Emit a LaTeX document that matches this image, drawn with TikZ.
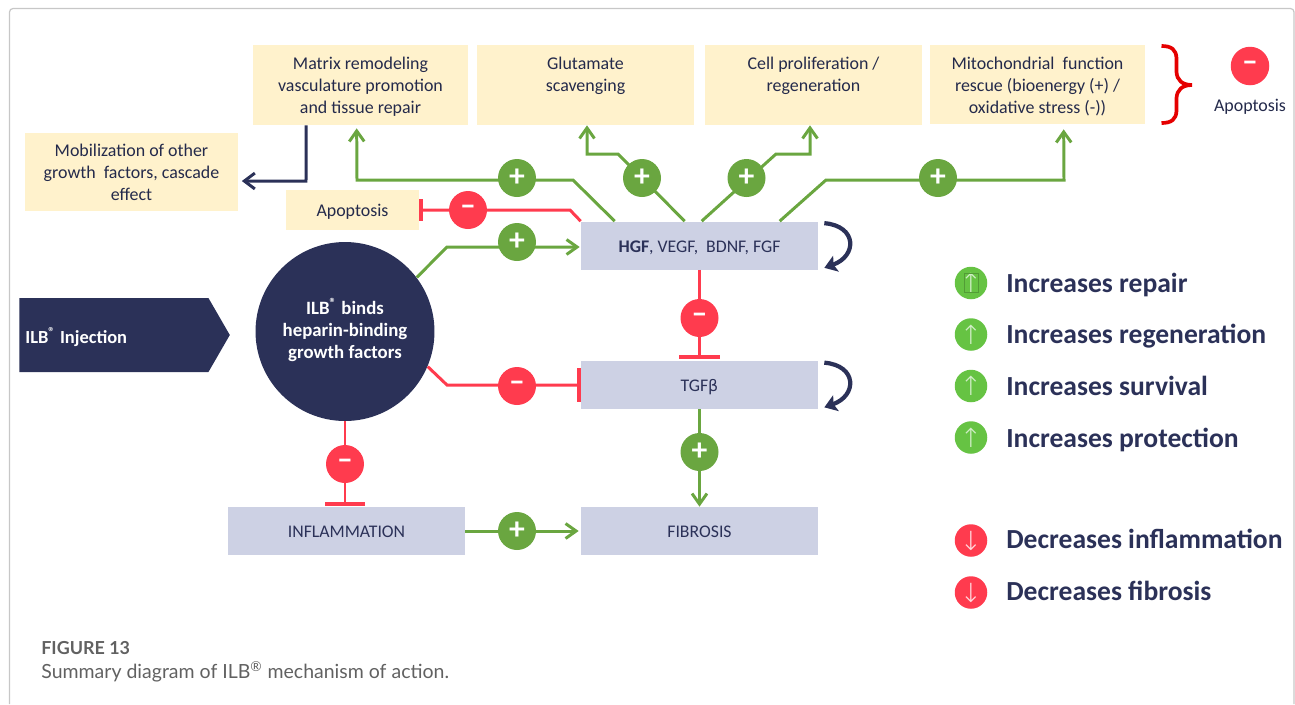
\documentclass[tikz,border=0pt]{standalone}
\usepackage{fontspec}
\setmainfont{Carlito}
\newfontfamily\capfont{Lato}
\newfontfamily\glyphfont{DejaVu Sans}
\newfontfamily\thinfont{DejaVu Sans ExtraLight}
\usetikzlibrary{arrows.meta,calc,shapes.symbols}
\definecolor{creambox}{HTML}{FFF2CC}
\definecolor{greybox}{HTML}{CDD1E4}
\definecolor{navy}{HTML}{2B3158}
\definecolor{plusgreen}{HTML}{6AA640}
\definecolor{minusred}{HTML}{FF3B4E}
\definecolor{upgreen}{HTML}{66C343}
\newcommand{\ilb}{ILB\textsuperscript{®}}
\newcommand{\minusmark}{\raisebox{-1.7pt}{–}}
\newcommand{\firstline}{\rule{0pt}{9.2pt}}
\tikzset{
  creamnode/.style={fill=creambox,text=navy!85!black,align=center,font=\fontsize{10.2}{12.5}\selectfont,inner sep=0pt},
  greynode/.style={fill=greybox,text=navy,align=center,font=\fontsize{10.1}{12.5}\selectfont,inner sep=0pt,minimum width=4.74cm,minimum height=0.96cm,text height=8.5pt,text depth=1pt},
  plusbadge/.style={circle,fill=plusgreen,text=white,minimum size=0.76cm,inner sep=0pt,font=\fontsize{18}{18}\selectfont\bfseries},
  minusbadge/.style={circle,fill=minusred,text=white,minimum size=0.76cm,inner sep=0pt,font=\fontsize{18}{18}\selectfont\bfseries},
  plusline/.style={draw=plusgreen,line width=1.7pt},
  plusarrow/.style={plusline,-{Straight Barb[length=6pt,width=8.5pt,line width=1.7pt]}},
  minusline/.style={draw=minusred,line width=1.7pt},
  minusbar/.style={minusline,-{Bar[width=#1,line width=2pt]}},
  navyarrow/.style={draw=navy,line width=1.7pt,-{Straight Barb[length=6pt,width=9pt,line width=1.7pt]}},
  selfloop/.style={draw=navy,line width=2.4pt,-{Stealth[length=7pt,width=9.5pt,inset=1.5pt]}},
  upbullet/.style={circle,fill=upgreen,text=white!70!upgreen,minimum size=0.65cm,inner sep=0pt,font=\thinfont\fontsize{15}{15}\selectfont},
  downbullet/.style={circle,fill=minusred,text=white!80!minusred,minimum size=0.65cm,inner sep=0pt,font=\thinfont\fontsize{15}{15}\selectfont},
  legendtext/.style={anchor=base west,text=navy,inner sep=0pt,font=\fontsize{15.7}{15.7}\selectfont\bfseries}
}
\begin{document}
\begin{tikzpicture}[x=0.02cm,y=-0.02cm]
  \useasboundingbox (0,0) rectangle (1295,704);
  \draw[black!22,line width=0.7pt,rounded corners=2pt] (9.5,704)--(9.5,8.5)--(1294,8.5)--(1294,704);
  % top row
  \node[creamnode,minimum width=4.3cm,minimum height=1.6cm] (matrix) at (360.5,85) {\firstline Matrix remodeling\\vasculature promotion\\and tissue repair};
  \node[creamnode,minimum width=4.34cm,minimum height=1.6cm] (glutamate) at (585.5,85) {Glutamate\\scavenging\\~};
  \node[creamnode,minimum width=4.33cm,minimum height=1.6cm] (prolif) at (813.5,85) {Cell proliferation /\\regeneration\\~};
  \node[creamnode,minimum width=4.3cm,minimum height=1.58cm] (mito) at (1037.5,84.5) {\firstline Mitochondrial~ function\\rescue (bioenergy (+) /\\oxidative stress (-))};
  \node[creamnode,minimum width=4.28cm,minimum height=1.56cm] (mobil) at (131.5,172) {Mobilization of other\\growth~ factors, cascade\\effect};
  \node[creamnode,minimum width=2.66cm,minimum height=0.8cm,text height=8.5pt,text depth=1pt] (apopbox) at (352.5,210) {Apoptosis};
  % middle
  \node[fill=navy,signal,signal to=east,signal pointer angle=120,inner sep=0pt,minimum width=4.21cm,minimum height=1.48cm,anchor=west] (inject) at (19,335) {};
  \node[anchor=west,text=white,inner sep=0pt,font=\fontsize{10.5}{12.5}\selectfont\bfseries] (injecttext) at (25,337) {\ilb{} Injection};
  \node[circle,fill=navy,text=white,align=center,inner sep=0pt,minimum size=3.58cm,font=\fontsize{10.7}{12.5}\selectfont\bfseries] (ilbnode) at (345,331.5) {\ilb{} binds\\heparin-binding\\growth factors\rule[-3.4pt]{0pt}{0pt}};
  \node[greynode] (hgf) at (699.5,245.5) {\textbf{HGF}, VEGF,~ BDNF, FGF};
  \node[greynode] (tgf) at (699.5,385) {TGF{\glyphfont\fontsize{9}{12}\selectfont β}};
  \node[greynode] (inflam) at (346.5,531) {INFLAMMATION};
  \node[greynode] (fibro) at (699.5,531) {FIBROSIS};
  % connectors
  \coordinate (bendA) at (573,180);
  \coordinate (bendB) at (357,180);
  \coordinate (bendC) at (618,154);
  \coordinate (bendD) at (587,154);
  \coordinate (bendE) at (776,154);
  \coordinate (bendF) at (810,154);
  \coordinate (bendG) at (826,180);
  \coordinate (bendH) at (1064,180);
  \coordinate (bendI) at (570,210);
  \coordinate (bendJ) at (447,247);
  \coordinate (bendK) at (447,385);
  \draw[plusarrow] ($(hgf.north west)+(34,0)$)--(bendA)--(bendB)--($(matrix.south west)+(104,3)$);
  \draw[plusarrow] ($(hgf.north west)+(104,0)$)--(bendC)--(bendD)--(glutamate.south west-|bendD);
  \draw[plusarrow] ($(hgf.north west)+(121,0)$)--(bendE)--(bendF)--(prolif.south west-|bendF);
  \draw[plusarrow] ($(hgf.north west)+(199,0)$)--(bendG)--(bendH)--($(mito.south west)+(134,5)$);
  \draw[minusbar=12.5pt] (hgf.north west)--(bendI)--(apopbox.east);
  \draw[plusarrow] (ilbnode.37)--(bendJ)--($(hgf.west)+(-1,1.5)$);
  \draw[minusbar=19pt] (ilbnode.-23)--(bendK)--(tgf.west);
  \draw[minusbar=23pt] (hgf.south)--($(tgf.north)+(0,-2)$);
  \draw[plusarrow] (tgf.south)--(fibro.north);
  \draw[minusbar=23pt] (ilbnode.south)--($(inflam.north)+(-1.5,-1)$);
  \draw[plusarrow] (inflam.east)--($(fibro.west)+(-2,0)$);
  \draw[navyarrow] ($(matrix.south west)+(53.5,0)$)--(306,181)--($(mobil.east)+(3,9)$);
  \draw[selfloop] ($(hgf.north east)+(6,2)$) .. controls ($(hgf.east)+(39,-19.5)$) and ($(hgf.east)+(39,10.5)$) .. ($(hgf.south east)+(6,-2)$);
  \draw[selfloop] ($(tgf.north east)+(6,2)$) .. controls ($(tgf.east)+(39,-19.5)$) and ($(tgf.east)+(39,10.5)$) .. ($(tgf.south east)+(6,-2)$);
  % badges
  \node[plusbadge] (plusA) at (517,178) {+};
  \node[plusbadge] (plusB) at (642,178) {+};
  \node[plusbadge] (plusC) at (746.5,178) {+};
  \node[plusbadge] (plusD) at (938,178) {+};
  \node[plusbadge] (plusE) at (517,242) {+};
  \node[plusbadge] (plusF) at (699.5,452) {+};
  \node[plusbadge] (plusG) at (517,531) {+};
  \node[minusbadge] (minusA) at (468,210) {\minusmark};
  \node[minusbadge] (minusB) at (517,386) {\minusmark};
  \node[minusbadge] (minusC) at (699.5,318) {\minusmark};
  \node[minusbadge] (minusD) at (345,464) {\minusmark};
  % apoptosis brace
  \draw[red!90!black,line width=2.1pt] (1161.5,46) .. controls (1172,46) and (1176,50) .. (1176.5,58) -- (1176.5,72) .. controls (1177,80) and (1182,85) .. (1192,85) .. controls (1182,85) and (1177,90) .. (1176.5,98) -- (1176.5,111) .. controls (1176,119) and (1172,123) .. (1161.5,123);
  \node[minusbadge,minimum size=0.77cm] (minusE) at (1250,66) {\minusmark};
  \node[text=navy!85!black,inner sep=0pt,font=\fontsize{10.2}{12.5}\selectfont] (apoplabel) at (1250,106.5) {Apoptosis};
  % legend
  \node[upbullet] (upA) at (971,283) {↑};
  \draw[upgreen!80!black,line width=0.4pt] (964.5,273) rectangle (978.5,292.5);
  \node[upbullet] (upB) at (971,334.5) {↑};
  \node[upbullet] (upC) at (971,386) {↑};
  \node[upbullet] (upD) at (971,437.5) {↑};
  \node[downbullet] (downA) at (971,540.5) {↓};
  \node[downbullet] (downB) at (971,592.5) {↓};
  \node[legendtext] (legA) at (1006,292) {Increases repair};
  \node[legendtext] (legB) at (1006,343.3) {Increases regeneration};
  \node[legendtext] (legC) at (1006,395.3) {Increases survival};
  \node[legendtext] (legD) at (1006,447) {Increases protection};
  \node[legendtext] (legE) at (1006,548.6) {Decreases inflammation};
  \node[legendtext] (legF) at (1006,600.3) {Decreases fibrosis};
  % caption
  \node[anchor=west,text=black!62,inner sep=0pt,font=\capfont\fontsize{10.2}{12}\selectfont\bfseries] (figlabel) at (41,648) {FIGURE 13};
  \node[anchor=west,text=black!62,inner sep=0pt,font=\capfont\fontsize{11.1}{12}\selectfont] (figcaption) at (41,672) {Summary diagram of \ilb{} mechanism of action.};
\end{tikzpicture}
\end{document}
